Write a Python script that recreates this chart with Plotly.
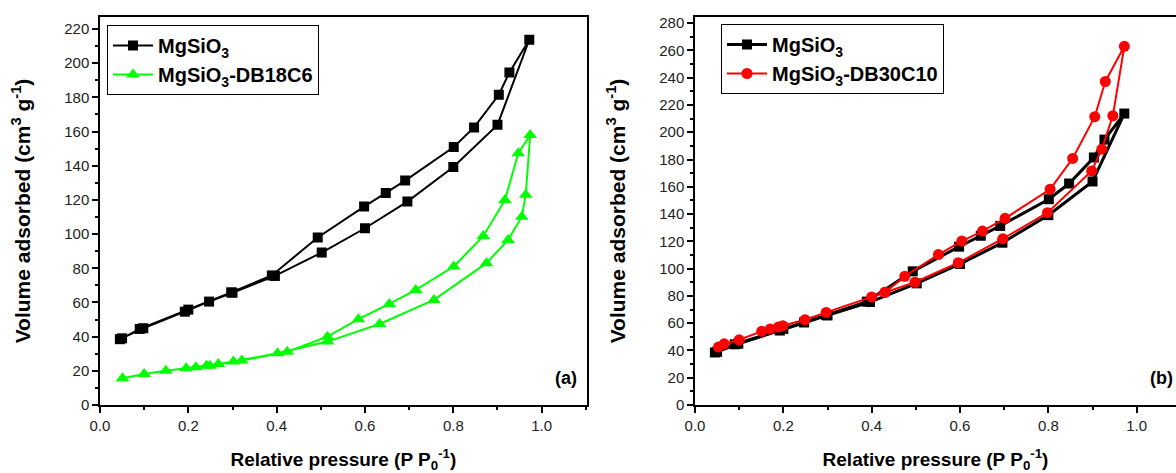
import plotly.graph_objects as go

# N2 adsorption-desorption isotherms (relative pressure vs. volume adsorbed)
mg_p = [0.045, 0.098, 0.192, 0.247, 0.300, 0.396, 0.502, 0.600, 0.696, 0.800, 0.900, 0.972,
        0.927, 0.903, 0.847, 0.801, 0.691, 0.647, 0.598, 0.493, 0.389, 0.297, 0.200, 0.090, 0.050]
mg_v = [38.5, 44.9, 54.6, 60.5, 65.7, 75.5, 89.2, 103.4, 119.0, 139.2, 163.9, 213.7,
        194.6, 181.5, 162.4, 150.9, 131.3, 124.1, 116.1, 98.0, 75.8, 65.9, 55.8, 44.5, 39.0]

db18_p = [0.051, 0.100, 0.149, 0.195, 0.217, 0.241, 0.268, 0.302, 0.402, 0.515, 0.633, 0.756,
          0.875, 0.924, 0.955, 0.964, 0.974,
          0.947, 0.917, 0.868, 0.801, 0.715, 0.655, 0.585, 0.515, 0.424, 0.321, 0.249]
db18_v = [15.6, 18.1, 20.1, 21.5, 22.1, 23.0, 24.0, 25.4, 30.3, 37.1, 47.4, 61.5,
          83.0, 96.6, 110.2, 123.0, 158.0,
          147.3, 120.0, 98.9, 81.0, 67.3, 59.1, 50.2, 40.0, 31.2, 26.0, 23.0]

db30_p = [0.053, 0.066, 0.100, 0.151, 0.170, 0.189, 0.199, 0.249, 0.297, 0.400, 0.430, 0.498,
          0.596, 0.697, 0.798, 0.898, 0.921, 0.946, 0.972,
          0.929, 0.905, 0.855, 0.804, 0.702, 0.651, 0.604, 0.551, 0.475, 0.430]
db30_v = [42.5, 44.9, 47.8, 54.0, 55.7, 57.2, 58.1, 62.5, 67.9, 79.2, 82.6, 90.0,
          104.3, 121.9, 141.0, 171.6, 187.6, 212.1, 263.0,
          237.2, 211.4, 180.8, 158.2, 136.9, 127.5, 120.2, 110.3, 94.4, 82.6]

x_ticks = [0.0, 0.2, 0.4, 0.6, 0.8, 1.0]
x_ticklabels = ["0.0", "0.2", "0.4", "0.6", "0.8", "1.0"]

FONT = "Liberation Sans, Arial, sans-serif"
W, H = 1176, 473
ML, MR, MT, MB = 100, 0, 17, 68
pw = W - ML - MR

fig = go.Figure()

fig.add_trace(go.Scatter(
    x=mg_p, y=mg_v, mode="lines+markers", name="<b>MgSiO<sub>3</sub></b>",
    line=dict(color="black", width=2),
    marker=dict(symbol="square", size=10, color="black"),
    xaxis="x", yaxis="y", legend="legend"))
fig.add_trace(go.Scatter(
    x=db18_p, y=db18_v, mode="lines+markers", name="<b>MgSiO<sub>3</sub>-DB18C6</b>",
    line=dict(color="#00ff00", width=2),
    marker=dict(symbol="triangle-up", size=12, color="#00ff00"),
    xaxis="x", yaxis="y", legend="legend"))

fig.add_trace(go.Scatter(
    x=mg_p, y=mg_v, mode="lines+markers", name="<b>MgSiO<sub>3</sub></b>",
    line=dict(color="black", width=3),
    marker=dict(symbol="square", size=10, color="black"),
    xaxis="x2", yaxis="y2", legend="legend2"))
fig.add_trace(go.Scatter(
    x=db30_p, y=db30_v, mode="lines+markers", name="<b>MgSiO<sub>3</sub>-DB30C10</b>",
    line=dict(color="#ff0000", width=2),
    marker=dict(symbol="circle", size=11, color="#ff0000"),
    xaxis="x2", yaxis="y2", legend="legend2"))

left_dom = [0, (586.7 - ML) / pw]
right_dom = [(695 - ML) / pw, 1.0]

def xaxis(domain, rng, anchor, mirror):
    return dict(
        domain=domain, range=rng, anchor=anchor,
        tickmode="array", tickvals=x_ticks, ticktext=x_ticklabels,
        ticks="outside", ticklen=6, tickwidth=1.5, tickcolor="black",
        minor=dict(dtick=0.1, tick0=0, ticks="outside", ticklen=3, tickwidth=1.5, tickcolor="black"),
        showline=True, linecolor="black", linewidth=1.5, mirror=mirror,
        showgrid=False, zeroline=False,
        tickfont=dict(family=FONT, size=15, color="#222"),
        title=dict(text="<b>Relative pressure (P P<sub>0</sub><sup>-1</sup>)</b>",
                   font=dict(family=FONT, size=19, color="black"), standoff=20),
    )

def yaxis(rng, anchor, mirror):
    return dict(
        domain=[0, 1], range=rng, anchor=anchor,
        dtick=20, tick0=0,
        ticks="outside", ticklen=6, tickwidth=1.5, tickcolor="black",
        minor=dict(dtick=10, tick0=0, ticks="outside", ticklen=3, tickwidth=1.5, tickcolor="black"),
        showline=True, linecolor="black", linewidth=1.5, mirror=mirror,
        showgrid=False, zeroline=False,
        tickfont=dict(family=FONT, size=15, color="#222"),
        title=dict(text="<b>Volume adsorbed (cm<sup>3</sup> g<sup>-1</sup>)</b>",
                   font=dict(family=FONT, size=21, color="black"), standoff=28),
    )

legend_style = dict(
    bgcolor="white", bordercolor="black", borderwidth=1,
    font=dict(family=FONT, size=20, color="black"),
    itemwidth=40, tracegroupgap=2,
    xanchor="left", yanchor="top",
)

fig.update_layout(
    width=W, height=H,
    margin=dict(l=ML, r=MR, t=MT, b=MB),
    paper_bgcolor="white", plot_bgcolor="white",
    font=dict(family=FONT),
    xaxis=xaxis(left_dom, [0, 1.102], "y", True),
    yaxis=yaxis([0, 227], "x", True),
    xaxis2=xaxis(right_dom, [0, (W - 695) / 441.7], "y2", True),
    yaxis2=yaxis([0, 284.5], "x2", False),
    legend=dict(x=(107 - ML) / pw, y=(405 - 25) / 388, **legend_style),
    legend2=dict(x=(721 - ML) / pw, y=(405 - 24) / 388, **legend_style),
    annotations=[
        dict(text="<b>(a)</b>", xref="x", yref="y", x=1.055, y=16, showarrow=False,
             font=dict(family=FONT, size=18, color="black")),
        dict(text="<b>(b)</b>", xref="x2", yref="y2", x=1.056, y=20, showarrow=False,
             font=dict(family=FONT, size=18, color="black")),
    ],
)

fig.write_html("out.html")
